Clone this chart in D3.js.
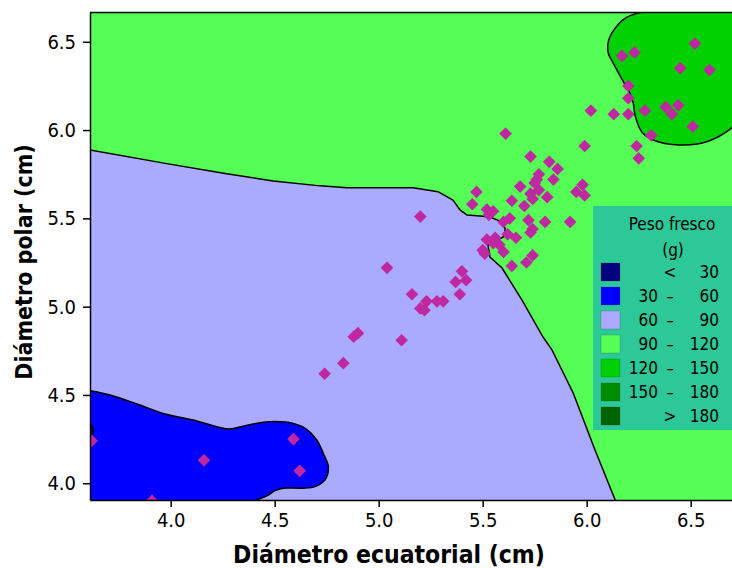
<!DOCTYPE html>
<html>
<head>
<meta charset="utf-8">
<script src="https://cdn.jsdelivr.net/npm/d3@7"></script>
<style>
  body { margin: 0; background: #fff; }
  text { font-family: "DejaVu Sans Condensed", "DejaVu Sans", sans-serif; font-stretch: condensed; }
</style>
</head>
<body>
<div id="chart-area"></div>
<script>
// puntos: diametro ecuatorial / diametro polar (cm)
var ecuatorial = [3.62,4.16,3.91,4.59,4.62,4.74,4.83,4.88,4.90,5.11,5.04,5.16,5.23,5.20,5.22,5.28,5.31,5.20,5.40,5.37,
  5.42,5.39,5.45,5.47,5.50,5.51,6.02,6.13,5.61,5.99,5.73,5.82,5.86,5.77,5.76,5.84,5.68,5.75,5.77,5.98,
  5.95,5.99,5.73,5.74,5.81,5.64,5.70,5.52,5.55,5.53,5.63,5.60,5.72,5.80,5.92,5.74,5.73,5.62,5.66,5.52,
  5.56,5.58,5.55,5.60,5.74,5.71,5.64,6.52,6.17,6.23,6.45,6.59,6.20,6.20,6.20,6.28,6.38,6.44,6.41,6.51,
  6.31,6.24,6.25];
var polar = [4.24,4.13,3.90,4.25,4.07,4.62,4.68,4.83,4.85,4.81,5.22,5.07,5.03,4.99,4.98,5.03,5.03,5.51,5.20,5.14,
  5.15,5.07,5.58,5.65,5.32,5.30,6.11,6.09,5.98,5.91,5.85,5.82,5.78,5.75,5.72,5.72,5.68,5.70,5.66,5.69,
  5.65,5.63,5.64,5.61,5.62,5.60,5.57,5.55,5.54,5.52,5.50,5.48,5.49,5.48,5.48,5.44,5.42,5.41,5.39,5.38,
  5.39,5.35,5.36,5.31,5.29,5.25,5.23,6.49,6.42,6.44,6.35,6.34,6.25,6.18,6.09,6.11,6.13,6.14,6.09,6.02,
  5.97,5.91,5.84];

// contornos (x, y)
var borde90 = [[3.612,5.887],[3.981,5.810],[4.269,5.753],[4.492,5.712],[4.718,5.684],[4.846,5.674],[5.165,5.674],
  [5.285,5.651],[5.357,5.604],[5.391,5.548],[5.425,5.519],[5.487,5.514],[5.535,5.508],[5.583,5.485],[5.607,5.446],
  [5.607,5.400],[5.525,5.349],[5.535,5.281],[5.593,5.219],[5.689,5.037],[5.790,4.828],[5.833,4.755],[5.935,4.511],
  [6.040,4.188],[6.137,3.905]];
var borde60 = [[3.612,4.524],[3.708,4.500],[3.852,4.443],[3.973,4.392],[4.107,4.358],[4.275,4.307],[4.333,4.319],
  [4.396,4.336],[4.497,4.349],[4.598,4.336],[4.652,4.306],[4.702,4.245],[4.737,4.160],[4.758,4.094],[4.742,4.019],
  [4.694,3.981],[4.636,3.972],[4.540,3.972],[4.501,3.958],[4.462,3.928],[4.413,3.905]];
var borde30 = [[3.612,4.34],[3.627,4.31],[3.627,4.28],[3.612,4.26]];
var borde120 = [[6.264,6.667],[6.184,6.633],[6.120,6.548],[6.104,6.501],[6.104,6.435],[6.128,6.378],[6.176,6.274],
  [6.208,6.208],[6.224,6.152],[6.232,6.085],[6.264,5.991],[6.320,5.944],[6.448,5.916],[6.577,5.934],[6.673,5.991],
  [6.737,6.057]];

// leyenda
var cortes = [30, 60, 90, 120, 150, 180];
var colores = ['#000080','#0000ff','#aaaaff','#55ff55','#00d000','#008c00','#006400'];
var tickX = [4.0, 4.5, 5.0, 5.5, 6.0, 6.5];
var tickY = [4.0, 4.5, 5.0, 5.5, 6.0, 6.5];

var width = 732, height = 568;
var svg = d3.select('#chart-area').append('svg')
    .attr('width', width)
    .attr('height', height);

var x = d3.scaleLinear().domain([3.612, 6.737]).range([90, 740]);
var y = d3.scaleLinear().domain([3.905, 6.667]).range([500, 12.3]);

svg.append('clipPath').attr('id','clip')
  .append('rect')
    .attr('x', 90).attr('y', 12)
    .attr('width', 650).attr('height', 488);

var g = svg.append('g').attr('clip-path','url(#clip)');

// fondo 90-120
g.append('rect')
    .attr('x', 90).attr('y', 12)
    .attr('width', 650).attr('height', 488)
    .attr('fill', colores[3]);

var linea = d3.line().x(function(d){ return x(d[0]); }).y(function(d){ return y(d[1]); });
var curva = d3.line().x(function(d){ return x(d[0]); }).y(function(d){ return y(d[1]); })
    .curve(d3.curveCatmullRom);

var xmin = x.domain()[0], xmax = x.domain()[1], ymin = y.domain()[0], ymax = y.domain()[1];

// regiones
g.append('path')
    .attr('d', linea(borde90.concat([[xmin, ymin]])))
    .attr('fill', colores[2]);
g.append('path')
    .attr('d', curva(borde60) + 'L' + x(xmin) + ',' + y(ymin) + 'Z')
    .attr('fill', colores[1]);
g.append('path')
    .attr('d', curva(borde30) + 'Z')
    .attr('fill', colores[0]);
g.append('path')
    .attr('d', curva(borde120) + 'L' + x(xmax) + ',' + y(ymax) + 'Z')
    .attr('fill', colores[4]);

// lineas de contorno
[[borde90, linea], [borde60, curva], [borde30, curva], [borde120, curva]].forEach(function(b){
    g.append('path')
        .attr('d', b[1](b[0]))
        .attr('fill', 'none')
        .attr('stroke', '#000')
        .attr('stroke-width', 1.5);
});

// puntos
var puntos = ecuatorial.map(function(d, i){ return [d, polar[i]]; });
g.selectAll('.punto')
    .data(puntos)
    .enter()
    .append('path')
        .attr('class','punto')
        .attr('d', d3.symbol().type(d3.symbolSquare).size(80))
        .attr('transform', function(d){ return 'translate(' + x(d[0]) + ',' + y(d[1]) + ') rotate(45)'; })
        .attr('fill', '#bf28a0');

// leyenda
var ley = svg.append('g');
ley.append('rect')
    .attr('x', 593).attr('y', 206)
    .attr('width', 150).attr('height', 224)
    .attr('fill', '#2dc897');
ley.append('text').attr('x', 672).attr('y', 230)
    .attr('text-anchor','middle').attr('font-size', 17).text('Peso fresco');
ley.append('text').attr('x', 673).attr('y', 256)
    .attr('text-anchor','middle').attr('font-size', 17).text('(g)');

var ultimo = colores.length - 1;
var filas = colores.map(function(c, i){
    var lo = (i == 0 || i == ultimo) ? '' : String(cortes[i-1]);
    var mid = i == 0 ? '<' : (i == ultimo ? '>' : '\u2013');
    var hi = i == ultimo ? String(cortes[i-1]) : String(cortes[i]);
    return {color: c, lo: lo, mid: mid, hi: hi};
});
var fila = ley.selectAll('.fila')
    .data(filas)
    .enter()
    .append('g')
        .attr('class','fila')
        .attr('transform', function(d, i){ return 'translate(0,' + (272 + i * 24) + ')'; });
fila.append('rect')
    .attr('x', 601).attr('y', -9)
    .attr('width', 19).attr('height', 18)
    .attr('fill', function(d){ return d.color; })
    .attr('stroke', 'rgba(0,0,0,0.15)');
fila.append('text').attr('x', 658).attr('y', 6).attr('text-anchor','end')
    .attr('font-size', 17).text(function(d){ return d.lo; });
fila.append('text').attr('x', 670).attr('y', 6).attr('text-anchor','middle')
    .attr('font-size', 17).text(function(d){ return d.mid; });
fila.append('text').attr('x', 719).attr('y', 6).attr('text-anchor','end')
    .attr('font-size', 17).text(function(d){ return d.hi; });

// ejes
var axisX = d3.axisBottom(x).tickValues(tickX).tickFormat(d3.format('.1f')).tickSize(7).tickSizeOuter(0).tickPadding(6);
var gx = svg.append('g')
    .attr('transform','translate(0,500)')
    .call(axisX);
gx.selectAll('text').attr('font-size', 20).attr('fill','#000');

var axisY = d3.axisLeft(y).tickValues(tickY).tickFormat(d3.format('.1f')).tickSize(7).tickSizeOuter(0).tickPadding(7);
var gy = svg.append('g')
    .attr('transform','translate(90,0)')
    .call(axisY);
gy.selectAll('text').attr('font-size', 20).attr('fill','#000');

svg.selectAll('.domain').attr('stroke','#000').attr('stroke-width',1.5);
svg.selectAll('.tick line').attr('stroke','#000').attr('stroke-width',1.5);

// borde superior
svg.append('line')
    .attr('x1', 90).attr('x2', 740)
    .attr('y1', 12.5).attr('y2', 12.5)
    .attr('stroke', '#000').attr('stroke-width', 1.5);

// titulos
svg.append('text')
    .attr('x', 389).attr('y', 563)
    .attr('text-anchor','middle')
    .attr('font-size', 24.5).attr('font-weight','bold')
    .text('Diámetro ecuatorial (cm)');
svg.append('text')
    .attr('transform','translate(32,262) rotate(-90)')
    .attr('text-anchor','middle')
    .attr('font-size', 23).attr('font-weight','bold')
    .text('Diámetro polar (cm)');
</script>
</body>
</html>
